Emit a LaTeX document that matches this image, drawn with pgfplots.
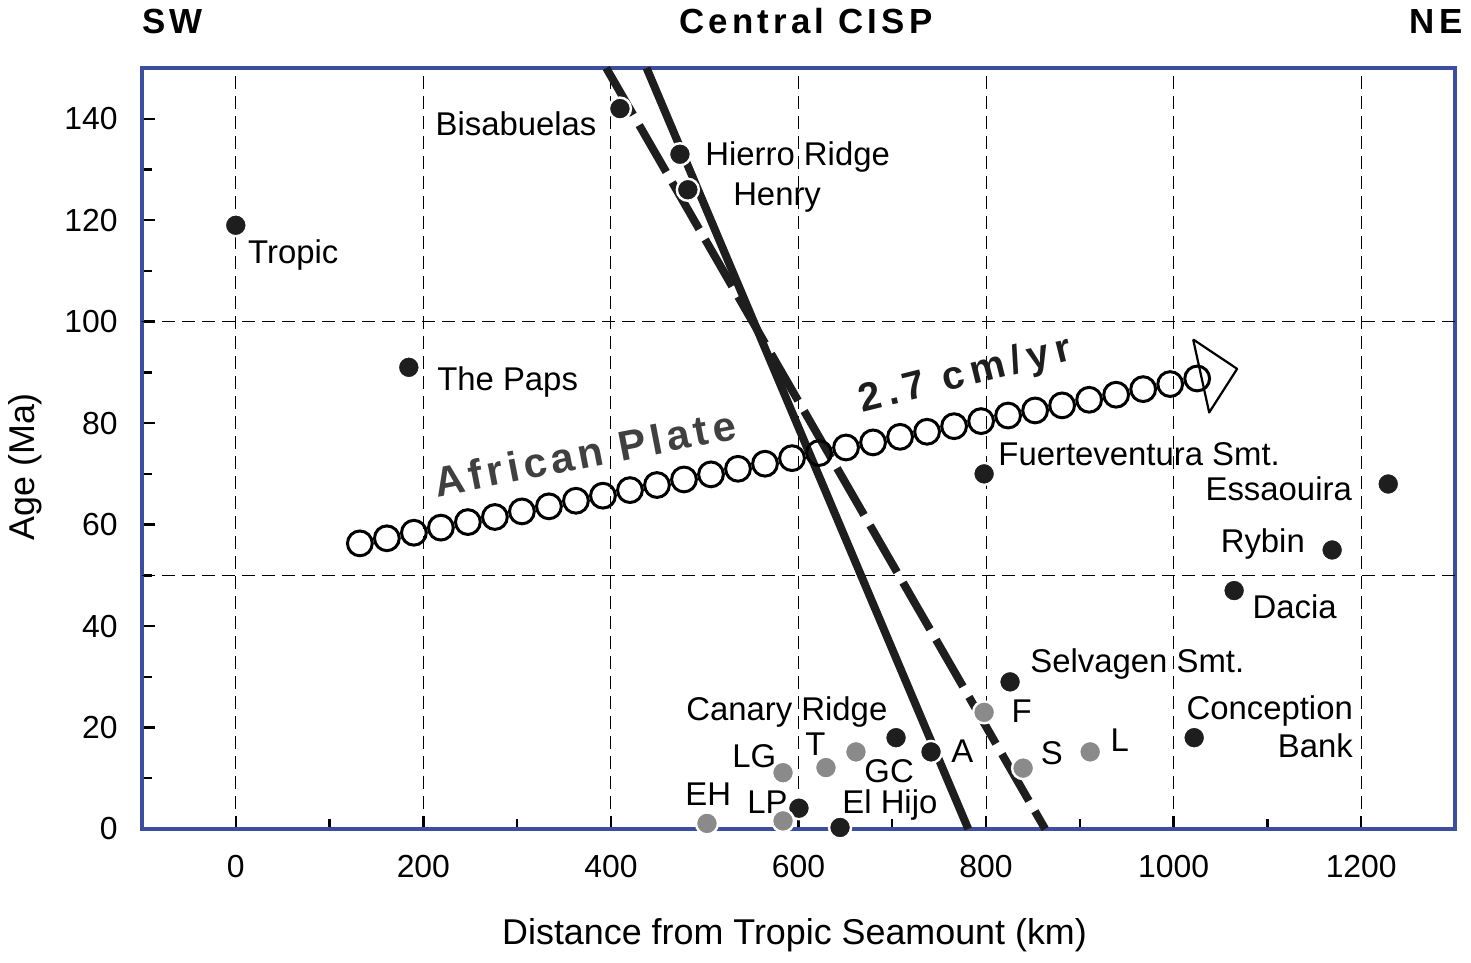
\documentclass[border=0pt]{standalone}
\usepackage{fontspec}
\setmainfont{Liberation Sans}
\newfontfamily\spacedfont[LetterSpace=12]{Liberation Sans}
\newfontfamily\platefont[LetterSpace=11]{Liberation Sans}
\newfontfamily\ratefont[LetterSpace=16]{Liberation Sans}
\usepackage{pgfplots}
\pgfplotsset{compat=1.18}
\definecolor{axisblue}{RGB}{60,78,160}
\definecolor{dotblack}{RGB}{30,30,30}
\definecolor{dotgray}{RGB}{138,138,138}
\definecolor{plategray}{RGB}{64,64,64}
\newcommand{\lbl}{\fontsize{16.5}{19}\selectfont}
\begin{document}
\begin{tikzpicture}
\begin{axis}[
  scale only axis, width=656.5bp, height=380.5bp,
  xmin=-100, xmax=1300, ymin=0, ymax=150,
  xtick={0,200,...,1200}, ytick={0,20,...,140},
  minor x tick num=1, minor y tick num=1,
  tick pos=left, tick align=inside,
  major tick length=6.5bp, minor tick length=5bp,
  every tick/.style={black, line width=1.2bp},
  axis line style={axisblue, line width=2bp},
  xmajorgrids,
  major grid style={black, line width=0.5bp, dash pattern=on 6.5bp off 3.5bp},
  extra y ticks={50,100}, extra y tick labels={},
  extra y tick style={grid=major, major tick length=0pt},
  /pgf/number format/assume math mode=true,
  /pgf/number format/1000 sep={},
  ticklabel style={font=\fontsize{16}{18}\selectfont, inner sep=0pt},
  xticklabel style={anchor=base, yshift=-24bp},
  yticklabel style={anchor=east, xshift=-12bp},
  xlabel={Distance from Tropic Seamount (km)},
  ylabel={Age (Ma)},
  label style={font=\fontsize{18}{21}\selectfont},
  xlabel style={at={(axis description cs:0.497,-0.139)}, anchor=center},
  ylabel style={at={(axis description cs:-0.089,0.476)}, anchor=center},
  clip=false,
]
% African plate motion chain
\addplot[only marks, mark=o, mark size=6.2bp, black, mark options={line width=1.5bp}] coordinates {
(132.3,56.3) (161.1,57.3) (189.9,58.4) (218.7,59.4) (247.5,60.5) (276.3,61.5)
(305.1,62.6) (333.9,63.6) (362.7,64.7) (391.5,65.7) (420.3,66.8) (449.1,67.8)
(477.9,68.9) (506.7,69.9) (535.5,71.0) (564.3,72.0) (593.1,73.1) (621.9,74.1)
(650.7,75.2) (679.5,76.2) (708.3,77.3) (737.1,78.3) (765.9,79.4) (794.7,80.4)
(823.5,81.5) (852.3,82.5) (881.1,83.5) (909.9,84.6) (938.7,85.6) (967.5,86.7)
(996.3,87.7) (1025.1,88.8)};
% arrow head
\addplot[fill=white, draw=black, line width=1.1bp, line join=round] coordinates {
(1020.8,96.5) (1067.7,90.7) (1037.9,82.1) (1020.8,96.5)};
% age trend lines
\addplot[dotblack, line width=4bp] coordinates {(438,150) (781,0)};
\addplot[dotblack, line width=4bp, dash pattern=on 27bp off 6bp] coordinates {(395,150) (863,0)};
% black samples
\addplot[only marks, mark=*, mark size=5.5bp, mark options={fill=dotblack, draw=white, line width=1.2bp}] coordinates {
(0,119) (184.5,91) (409.6,142) (473.6,133) (482,126) (797.9,70) (1228.8,68)
(1169,55) (1064.5,47) (825.6,29) (1021.9,18) (741.3,15.2) (704,18) (600.5,4.1) (644.3,0.3)};
% grey samples
\addplot[only marks, mark=*, mark size=5.5bp, mark options={fill=dotgray, draw=white, line width=1.2bp}] coordinates {
(502.4,1.1) (583.5,1.6) (583.5,11.1) (629.3,12.1) (661.3,15.2) (797.9,23) (839.5,12) (911,15.2)};
% labels
\begin{scope}[every node/.style={inner sep=0pt, font=\lbl}]
\node[anchor=base west] at (axis cs:12.8,111.4) {Tropic};
\node[anchor=base west] at (axis cs:214.4,86.4) {The Paps};
\node[anchor=base east] at (axis cs:385,136.7) {Bisabuelas};
\node[anchor=base west] at (axis cs:500.3,130.7) {Hierro Ridge};
\node[anchor=base west] at (axis cs:530,122.8) {Henry};
\node[anchor=base west] at (axis cs:812.8,71.7) {Fuerteventura Smt.};
\node[anchor=base east] at (axis cs:1190.4,64.8) {Essaouira};
\node[anchor=base east] at (axis cs:1140.3,54.5) {Rybin};
\node[anchor=base west] at (axis cs:1083.7,41.5) {Dacia};
\node[anchor=base west] at (axis cs:846.9,30.9) {Selvagen Smt.};
\node[anchor=base east] at (axis cs:1191.5,21.5) {Conception};
\node[anchor=base east] at (axis cs:1191.5,14.0) {Bank};
\node[anchor=base west] at (axis cs:826.7,20.9) {F};
\node[anchor=base west] at (axis cs:762.7,13.2) {A};
\node[anchor=base west] at (axis cs:858,12.8) {S};
\node[anchor=base west] at (axis cs:932.3,15.2) {L};
\node[anchor=base west] at (axis cs:480,21.3) {Canary Ridge};
\node[anchor=base west] at (axis cs:529.1,12.2) {LG};
\node[anchor=base west] at (axis cs:607,14.4) {T};
\node[anchor=base west] at (axis cs:669.9,9.1) {GC};
\node[anchor=base west] at (axis cs:478.9,4.7) {EH};
\node[anchor=base west] at (axis cs:545,3.1) {LP};
\node[anchor=base west] at (axis cs:646.4,3.1) {El Hijo};
\node[anchor=base west, rotate=11, text=plategray, font=\platefont\bfseries\fontsize{21}{24}\selectfont] at (axis cs:214.4,65.4) {African Plate};
\node[anchor=base west, rotate=14, text=dotblack, font=\ratefont\bfseries\fontsize{20}{23}\selectfont] at (axis cs:667.7,82.1) {2.7 cm/yr};
\node[anchor=base west, yshift=17bp, font=\spacedfont\bfseries\fontsize{17.5}{20}\selectfont] at (rel axis cs:0,1) {SW};
\node[anchor=base, yshift=17bp, font=\spacedfont\bfseries\fontsize{17.5}{20}\selectfont] at (axis cs:608,150) {Central CISP};
\node[anchor=base east, yshift=17bp, xshift=4bp, font=\spacedfont\bfseries\fontsize{17.5}{20}\selectfont] at (rel axis cs:1,1) {NE};
\end{scope}
\end{axis}
\pgfresetboundingbox
\path ([xshift=-71bp,yshift=-67bp]current axis.south west) rectangle ([xshift=8bp,yshift=34bp]current axis.north east);
\end{tikzpicture}
\end{document}
